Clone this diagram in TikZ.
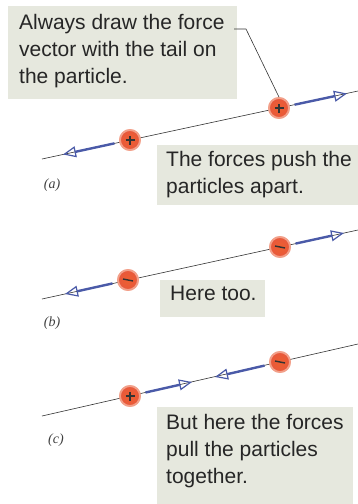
\documentclass[tikz,border=0pt]{standalone}
\usepackage{fontspec}
\setmainfont{Liberation Sans}
\newfontfamily\labelfont{Liberation Serif}
\usetikzlibrary{arrows.meta}
\definecolor{boxbg}{HTML}{E6E8DE}
\definecolor{forceblue}{HTML}{4A5AA8}
\definecolor{chargered}{HTML}{E8583C}
\definecolor{chargelight}{HTML}{F2A08A}
\tikzset{
  infotext/.style={font=\fontsize{21}{27}\selectfont, text=black!85, anchor=north west, align=left, inner sep=0pt},
  axisline/.style={draw=black!80, line width=0.6pt},
  force/.style={draw=forceblue, line width=2.4pt, -{Triangle[open, length=13pt, width=11pt, line width=1.2pt]}, shorten <=5pt},
  charge/.style={circle, minimum size=20pt, inner sep=0pt, inner color=chargered!80!orange, outer color=chargered, draw=chargelight, line width=1.8pt},
  sign/.style={line width=1.4pt, draw=black!80},
  panel/.style={font=\labelfont\itshape\fontsize{14}{16}\selectfont, text=black!75},
  leader/.style={draw=black!80, line width=0.6pt}
}
\begin{document}
\begin{tikzpicture}[x=1pt, y=-1pt]
\useasboundingbox (0,0) rectangle (358,504);
% boxes
\fill[boxbg] (8,6) rectangle (237,99);
\fill[boxbg] (157,145) rectangle (358,205);
\fill[boxbg] (160,280) rectangle (265,317);
\fill[boxbg] (157,407) rectangle (353,504);
\node[infotext] (t1) at (19,14) {Always draw the force\\vector with the tail on\\the particle.};
\node[infotext] (t2) at (166,151) {The forces push the\\particles apart.};
\node[infotext] (t3) at (170,286) {Here too.};
\node[infotext] (t4) at (166,414) {But here the forces\\pull the particles\\together.};
% panel a
\coordinate (aL) at (42,159);
\coordinate (aR) at (358,91);
\coordinate (aT1) at (63,154.5);
\coordinate (aT2) at (347,93.5);
\draw[axisline] (aL) -- (aR);
\node[charge] (a1) at (130,140) {};
\node[charge] (a2) at (279,108) {};
\draw[force] (a1) -- (aT1);
\draw[force] (a2) -- (aT2);
\node[charge] at (a1) {};
\node[charge] at (a2) {};
\draw[sign] ([xshift=-4.5pt]a1.center) -- ([xshift=4.5pt]a1.center) ([yshift=-4.5pt]a1.center) -- ([yshift=4.5pt]a1.center);
\draw[sign] ([xshift=-4.5pt]a2.center) -- ([xshift=4.5pt]a2.center) ([yshift=-4.5pt]a2.center) -- ([yshift=4.5pt]a2.center);
\coordinate (lk) at (246,29);
\draw[leader] (234,29) -- (lk) -- (a2.north);
\node[panel] (la) at (52,185) {(a)};
% panel b
\coordinate (bL) at (42,299);
\coordinate (bR) at (358,230);
\coordinate (bT1) at (65,294);
\coordinate (bT2) at (344,233);
\draw[axisline] (bL) -- (bR);
\node[charge] (b1) at (128,280) {};
\node[charge] (b2) at (280,247) {};
\draw[force] (b1) -- (bT1);
\draw[force] (b2) -- (bT2);
\node[charge] at (b1) {};
\node[charge] at (b2) {};
\draw[sign] ([xshift=-5pt,yshift=1pt]b1.center) -- ([xshift=5pt,yshift=-1pt]b1.center);
\draw[sign] ([xshift=-5pt,yshift=1pt]b2.center) -- ([xshift=5pt,yshift=-1pt]b2.center);
\node[panel] (lb) at (52,323) {(b)};
% panel c
\coordinate (cL) at (42,416);
\coordinate (cR) at (358,344);
\coordinate (cT1) at (192,382);
\coordinate (cT2) at (215,377);
\draw[axisline] (cL) -- (cR);
\node[charge] (c1) at (130,396) {};
\node[charge] (c2) at (280,362) {};
\draw[force] (c1) -- (cT1);
\draw[force] (c2) -- (cT2);
\node[charge] at (c1) {};
\node[charge] at (c2) {};
\draw[sign] ([xshift=-4.5pt]c1.center) -- ([xshift=4.5pt]c1.center) ([yshift=-4.5pt]c1.center) -- ([yshift=4.5pt]c1.center);
\draw[sign] ([xshift=-5pt,yshift=1pt]c2.center) -- ([xshift=5pt,yshift=-1pt]c2.center);
\node[panel] (lc) at (56,440) {(c)};
\end{tikzpicture}
\end{document}
